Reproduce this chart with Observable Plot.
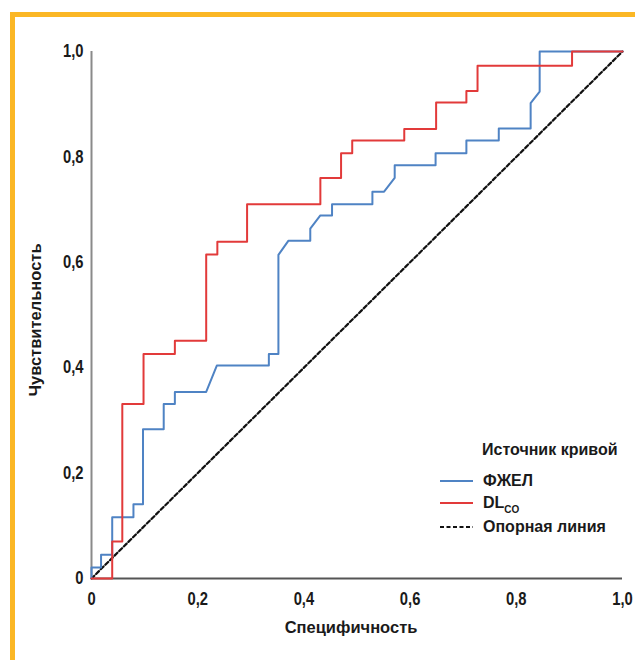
<!DOCTYPE html>
<html>
<head>
<meta charset="utf-8">
<script src="https://cdn.jsdelivr.net/npm/d3@7"></script>
<script src="https://cdn.jsdelivr.net/npm/@observablehq/plot@0.6"></script>
<style>
  html, body { margin: 0; padding: 0; background: #fff; }
  #wrap { position: relative; width: 635px; height: 660px; overflow: hidden; background: #fff; }
  #frame { position: absolute; left: 10px; top: 12px; width: 800px; height: 800px;
           border-top: 5px solid #fbb725; border-left: 5px solid #fbb725; }
  #chart { position: absolute; left: 0; top: 0; }
  .lab { position: absolute; font-family: "Liberation Sans", Arial, sans-serif; font-weight: bold;
         font-size: 16.5px; color: #1a1a1a; white-space: nowrap; }
  #legend { position: absolute; left: 440px; top: 438px; font-family: "Liberation Sans", Arial, sans-serif;
            font-weight: bold; font-size: 16px; color: #1a1a1a; }
  #legend .row { position: absolute; left: 0; white-space: nowrap; height: 20px; }
  #legend .row svg { position: absolute; left: 0; top: 0; }
  #legend .row span { position: absolute; left: 43px; top: 0; line-height: 20px; }
</style>
</head>
<body>
<div id="wrap">
  <div id="frame"></div>
  <div id="chart"></div>
  <div class="lab" id="ytitle" style="left:35px; top:320px; transform: translate(-50%,-50%) rotate(-90deg);">Чувствительность</div>
  <div class="lab" id="xtitle" style="left:351px; top:627px; transform: translate(-50%,-50%);">Специфичность</div>
  <div id="legend"></div>
</div>
<script>
// ROC curve: DLco (red)
const dlFpr = [0,0.039,0.039,0.058,0.058,0.098,0.098,0.157,0.157,0.216,0.216,0.237,0.237,0.293,0.293,0.431,0.431,0.470,0.470,0.491,0.491,0.589,0.589,0.649,0.649,0.706,0.706,0.727,0.727,0.905,0.905,1];
const dlTpr = [0,0,0.070,0.070,0.331,0.331,0.426,0.426,0.451,0.451,0.615,0.615,0.639,0.639,0.710,0.710,0.760,0.760,0.807,0.807,0.831,0.831,0.853,0.853,0.903,0.903,0.925,0.925,0.973,0.973,1,1];
// ROC curve: ФЖЕЛ (blue)
const fvcFpr = [0,0,0.018,0.018,0.039,0.039,0.079,0.079,0.097,0.097,0.136,0.136,0.157,0.157,0.216,0.236,0.334,0.334,0.352,0.352,0.371,0.412,0.412,0.431,0.453,0.453,0.529,0.529,0.551,0.571,0.571,0.648,0.648,0.706,0.706,0.767,0.767,0.827,0.827,0.844,0.844,1];
const fvcTpr = [0,0.021,0.021,0.045,0.045,0.116,0.116,0.141,0.141,0.283,0.283,0.331,0.331,0.354,0.354,0.404,0.404,0.426,0.426,0.614,0.641,0.641,0.664,0.689,0.689,0.710,0.710,0.734,0.734,0.760,0.784,0.784,0.807,0.807,0.831,0.831,0.854,0.854,0.902,0.924,1,1];
// Reference line
const refX = [0, 1];
const refY = [0, 1];
const ticks = [0, 0.2, 0.4, 0.6, 0.8, 1.0];
const tickLabels = ["0", "0,2", "0,4", "0,6", "0,8", "1,0"];

const seriesNames = ["ФЖЕЛ", "DLCO", "Опорная линия"];
const blue = "#4f83c4";
const red = "#e23a3a";

const dl = dlFpr.map((x, i) => ({x, y: dlTpr[i]}));
const fvc = fvcFpr.map((x, i) => ({x, y: fvcTpr[i]}));
const ref = refX.map((x, i) => ({x, y: refY[i]}));
const fmt = d => tickLabels[ticks.findIndex(t => Math.abs(t - d) < 1e-9)];

const tickFont = {fontFamily: "'Liberation Sans', Arial, sans-serif", fontWeight: "bold", fontSize: 18, fill: "#1a1a1a"};

const plot = Plot.plot({
  width: 635,
  height: 660,
  marginLeft: 91,
  marginRight: 13,
  marginTop: 51,
  marginBottom: 82,
  x: {domain: [0, 1]},
  y: {domain: [0, 1]},
  style: {background: "transparent", overflow: "visible"},
  marks: [
    Plot.axisX({ticks, tickFormat: fmt, tickSize: 0, tickPadding: 14, label: null, ...tickFont}),
    Plot.axisY({ticks, tickFormat: fmt, tickSize: 0, tickPadding: 8, label: null, ...tickFont}),
    Plot.ruleX([0], {y1: 0, y2: 1, stroke: "#8a8a8a", strokeWidth: 2}),
    Plot.ruleY([0], {x1: 0, x2: 1, stroke: "#555", strokeWidth: 2}),
    Plot.line(ref, {x: "x", y: "y", stroke: "#111", strokeWidth: 2.2, strokeDasharray: "4,2.5"}),
    Plot.line(fvc, {x: "x", y: "y", stroke: blue, strokeWidth: 2}),
    Plot.line(dl, {x: "x", y: "y", stroke: red, strokeWidth: 2})
  ]
});
document.getElementById("chart").appendChild(plot);

// condense tick labels (narrow bold look)
plot.querySelectorAll('g[aria-label="x-axis tick label"] text, g[aria-label="y-axis tick label"] text').forEach(t => {
  const w = t.getComputedTextLength();
  t.setAttribute("textLength", (w * 0.82).toFixed(2));
  t.setAttribute("lengthAdjust", "spacingAndGlyphs");
});

// Legend
const legend = document.getElementById("legend");
legend.innerHTML = `<div class="row" style="top:2px"><span style="left:42px">Источник кривой</span></div>`;
const legItems = [
  {name: seriesNames[0], color: blue, dash: null, top: 33},
  {name: seriesNames[1], color: red, dash: null, top: 55},
  {name: seriesNames[2], color: "#111", dash: "4,2.5", top: 79}
];
for (const it of legItems) {
  const row = document.createElement("div");
  row.className = "row";
  row.style.top = it.top + "px";
  const label = it.name === "DLCO" ? `DL<sub style="font-size:10px; vertical-align:-5px">CO</sub>` : it.name;
  row.innerHTML = `<svg width="34" height="20"><line x1="0" x2="33" y1="10" y2="10" stroke="${it.color}" stroke-width="2" ${it.dash ? `stroke-dasharray="${it.dash}"` : ""}/></svg><span>${label}</span>`;
  legend.appendChild(row);
}
</script>
</body>
</html>
